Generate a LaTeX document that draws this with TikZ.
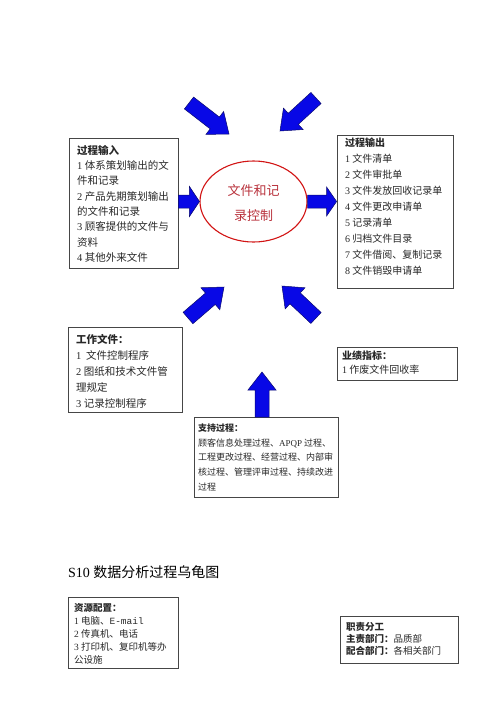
\documentclass[tikz,border=0pt]{standalone}
\usepackage{fontspec}
\setmainfont{Liberation Serif}
\setmonofont{Liberation Mono}
\newfontfamily\cjk{Noto Sans CJK SC}
\usetikzlibrary{calc,shapes.geometric}
\newcommand\dg[1]{{\rmfamily #1}}
% #1 tail, #2 tip, #3 prefix, #4 shaft half width, #5 head half width, #6 head length
\newcommand\fatarr[6]{%
  \coordinate (#3base) at ($(#2)!#6!(#1)$);
  \filldraw[fatarrow] ($(#1)!#4!90:(#2)$) -- ($(#3base)!#4!90:(#2)$) -- ($(#3base)!#5!90:(#2)$) -- (#2)
    -- ($(#3base)!#5!-90:(#2)$) -- ($(#3base)!#4!-90:(#2)$) -- ($(#1)!#4!-90:(#2)$) -- cycle;}
\definecolor{arrblue}{RGB}{8,8,230}
\definecolor{arredge}{RGB}{10,10,110}
\definecolor{ellred}{RGB}{210,20,20}
\definecolor{elltext}{RGB}{185,50,60}
\definecolor{boxline}{RGB}{70,70,70}
\definecolor{bodytext}{RGB}{40,40,40}
\begin{document}
\begin{tikzpicture}[x=1pt,y=-1pt,
  box/.style={draw=boxline, line width=0.8pt, inner sep=0pt},
  txt/.style={anchor=north west, inner sep=0pt, align=left, text=bodytext},
  fatarrow/.style={fill=arrblue, draw=arredge, line width=0.5pt, line join=miter}]
\useasboundingbox[fill=white] (0,0) rectangle (500,707);

% central ellipse
\node[draw=ellred, line width=1.1pt, ellipse, minimum width=107pt, minimum height=81pt, inner sep=0pt] (core) at (253.5,201.5) {};
\node[font=\cjk\fontsize{13}{25}\selectfont, text=elltext, align=center, inner sep=0pt] (coreT) at (253.5,203) {文件和记\\录控制};

% process input
\node[box, minimum width=109pt, minimum height=130pt] (inB) at (123.5,203) {};
\node[txt, font=\cjk\fontsize{10.5}{15.3}\selectfont] (inT) at (77,145) {\textbf{过程输入}\\
\dg{1} 体系策划输出的文\\件和记录\\
\dg{2} 产品先期策划输出\\的文件和记录\\
\dg{3} 顾客提供的文件与\\资料\\
\dg{4} 其他外来文件};

% process output
\node[box, minimum width=116pt, minimum height=153pt] (outB) at (395,211.5) {};
\node[txt, font=\cjk\fontsize{10}{16}\selectfont] (outT) at (345,138) {\textbf{过程输出}\\
\dg{1} 文件清单\\
\dg{2} 文件审批单\\
\dg{3} 文件发放回收记录单\\
\dg{4} 文件更改申请单\\
\dg{5} 记录清单\\
\dg{6} 归档文件目录\\
\dg{7} 文件借阅、复制记录\\
\dg{8} 文件销毁申请单};

% work files
\node[box, minimum width=114pt, minimum height=85pt] (workB) at (125,369.5) {};
\node[txt, font=\cjk\fontsize{10.5}{16}\selectfont] (workT) at (76,334) {\textbf{工作文件：}\\
\dg{1}\ \ 文件控制程序\\
\dg{2} 图纸和技术文件管\\理规定\\
\dg{3} 记录控制程序};

% performance
\node[box, minimum width=120pt, minimum height=33pt] (perfB) at (397,363.5) {};
\node[txt, font=\cjk\fontsize{10}{14}\selectfont] (perfT) at (342,351) {\textbf{业绩指标：}\\
\dg{1} 作废文件回收率};

% support processes
\node[box, minimum width=144pt, minimum height=80pt] (supB) at (266,457) {};
\node[txt, font=\cjk\fontsize{9}{14.75}\selectfont] (supT) at (198,423.5) {\textbf{支持过程：}\\
顾客信息处理过程、\dg{APQP} 过程、\\
工程更改过程、经营过程、内部审\\
核过程、管理评审过程、持续改进\\
过程};

% title
\node[anchor=west, inner sep=0pt, font=\fontsize{14}{16}\selectfont] (title) at (68,572) {S10 {\cjk 数据分析过程乌龟图}};

% resources
\node[box, minimum width=110pt, minimum height=71pt] (resB) at (123,632.5) {};
\node[txt, font=\cjk\fontsize{9.5}{13}\selectfont] (resT) at (74,603.5) {\textbf{资源配置：}\\
\dg{1} 电脑、{\ttfamily E-mail}\\
\dg{2} 传真机、电话\\
\dg{3} 打印机、复印机等办\\公设施};

% duties
\node[box, minimum width=118pt, minimum height=47pt] (dutyB) at (399,639.5) {};
\node[txt, font=\cjk\fontsize{9.5}{11.7}\selectfont] (dutyT) at (346,622.5) {\textbf{职责分工}\\
\textbf{主责部门：}品质部\\
\textbf{配合部门：}各相关部门};

% arrows
\coordinate (tlA) at (189,103); \coordinate (tlB) at (229,134);
\coordinate (trA) at (316,98);  \coordinate (trB) at (280,131);
\coordinate (blA) at (188,318); \coordinate (blB) at (224,287);
\coordinate (brA) at (316,318); \coordinate (brB) at (282,286);
\coordinate (upA) at (262,417); \coordinate (upB) at (262,372);
\coordinate (inA) at (inB.east |- core); \coordinate (inC) at (core.west);
\coordinate (outA) at (core.east); \coordinate (outC) at (outB.west |- core);
\fatarr{tlA}{tlB}{tl}{7.5pt}{14.5pt}{18pt}
\fatarr{trA}{trB}{tr}{7.5pt}{14.5pt}{18pt}
\fatarr{blA}{blB}{bl}{7.5pt}{14.5pt}{18pt}
\fatarr{brA}{brB}{br}{7.5pt}{14.5pt}{18pt}
\fatarr{upA}{upB}{up}{7pt}{14pt}{18pt}
\fatarr{inA}{inC}{in}{6.5pt}{15pt}{10pt}
\fatarr{outA}{outC}{out}{6.5pt}{14.5pt}{10pt}
\end{tikzpicture}
\end{document}
